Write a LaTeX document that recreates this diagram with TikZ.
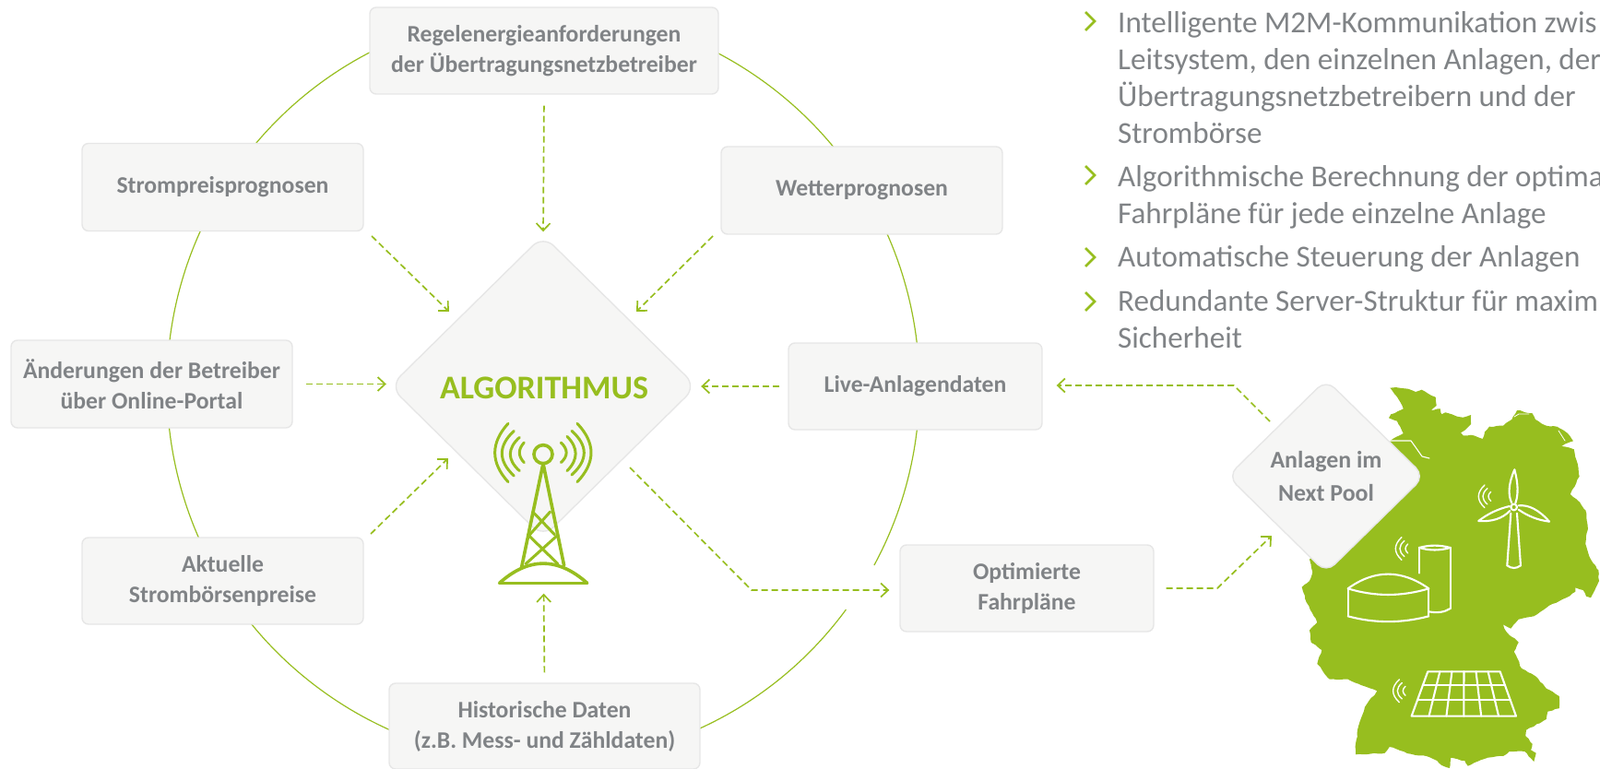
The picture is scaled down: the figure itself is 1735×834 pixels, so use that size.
\documentclass[tikz,border=0pt]{standalone}
\usepackage{fontspec}
\setmainfont{Carlito}
\usetikzlibrary{arrows.meta,shapes.geometric,calc,decorations.pathmorphing}
\definecolor{nxgreen}{HTML}{97BE1F}
\definecolor{nxgray}{HTML}{808386}
\definecolor{nxfill}{HTML}{F6F6F5}
\definecolor{nxedge}{HTML}{E6E6E6}
\tikzset{
  infobox/.style={draw=nxedge,fill=nxfill,line width=1.4pt,rounded corners=7pt,inner sep=0pt,
    text=nxgray,align=center,font=\fontsize{25.7}{33}\selectfont\bfseries},
  rhomb/.style={diamond,aspect=1,draw=nxedge,fill=nxfill,line width=1.4pt,rounded corners=13pt,inner sep=0pt,
    text=nxgray,align=center,font=\fontsize{25.9}{36}\selectfont\bfseries},
  flow/.style={draw=nxgreen,line width=1.7pt,dash pattern=on 7pt off 4pt,
    -{Straight Barb[length=8pt,width=15pt,line width=1.7pt]}},
  ring/.style={draw=nxgreen,line width=1.2pt},
  bullettext/.style={anchor=north west,inner sep=0pt,align=left,text=nxgray,
    font=\fontsize{33.1}{40}\selectfont},
  chevron/.style={draw=nxgreen,line width=2.6pt},
  towerline/.style={draw=nxgreen,line width=3.6pt,line cap=round,line join=round},
  towerthin/.style={draw=nxgreen,line width=3pt,line cap=round,line join=round},
  iconline/.style={draw=white,line width=2.1pt,line cap=round,line join=round},
  wifiline/.style={draw=white,line width=1.4pt,line cap=round},
  riverline/.style={draw=white,line width=1.1pt,line cap=round,line join=round},
}
% a curve through a single control point: start x,y; control x,y; end x,y
\newcommand{\qc}[6]{(#1,#2) .. controls ({#1+2/3*(#3-#1)},{#2+2/3*(#4-#2)}) and ({#5+2/3*(#3-#5)},{#6+2/3*(#4-#6)}) .. (#5,#6)}
\newcommand{\wifimark}[2]{%
  \begin{scope}[shift={(#1,#2)}]
    \draw[wifiline] \qc{0}{-37}{-40}{0}{0}{37};
    \draw[wifiline] \qc{9}{-26}{-21}{0}{9}{26};
    \draw[wifiline] \qc{20}{-15}{4}{0}{20}{15};
  \end{scope}}
\begin{document}
\begin{tikzpicture}[x=1pt,y=-1pt]
\useasboundingbox (0,0) rectangle (1735,834);
% ring
\coordinate (ringc) at (589,419);
\draw[ring] ($(ringc)+(36.4:408)$) arc[start angle=36.4,delta angle=352,radius=408];
% map of Germany
\fill[nxgreen,decorate,decoration={random steps,segment length=4pt,amplitude=0.6pt}]
 (1507.3,420.7)--(1513.3,420)--(1526.7,421.7)--(1535,425)--(1541.7,422.7)--(1548.3,426.7)--(1556.7,430.7)--(1557.7,440)--(1551.7,445)--(1561.7,443.3)--(1563.3,449.3)--(1567.3,447.3)--(1580,451.7)--(1586.7,452.7)--(1595,450)--(1595,460)--(1588.3,466.7)--(1584,469.3)--(1586.7,472.3)--(1595,471.7)--(1607.7,476)--(1610,468.3)--(1615,462.7)--(1630,461.7)--(1639.3,455)--(1645,445)--(1661.7,448.3)--(1665,455)--(1676.7,461.7)--(1688.3,462.7)--(1700,470)--(1706,478.3)--(1696.7,481.7)--(1693.3,484)--(1706.7,487.3)--(1711.7,508.3)--(1712.7,516.7)--(1702.7,536)--(1713.3,545)--(1719.3,553.3)--(1721.7,570)--(1719.3,590)--(1723.3,603.3)--(1733.3,618.3)--(1734,630)--(1725,648.3)--(1720,646.7)--(1716.7,640)--(1708.3,637.3)--(1708.3,641.7)--(1698.3,648.3)--(1683.3,655)--(1663.3,668.3)--(1646.7,671.7)--(1638.3,681.7)--(1630,677.3)--(1633.3,685)--(1646.7,696.7)--(1641.7,706.7)--(1650,725)--(1665,733.3)--(1676.7,746.7)--(1690.7,755)--(1690.7,768.3)--(1678.3,771.7)--(1676.7,780)--(1655,791.7)--(1654.3,798.3)--(1661.7,806.7)--(1660,813.3)--(1665.7,816.7)--(1663.3,826)--(1653.3,815)--(1636.7,815)--(1630,820)--(1613.3,821.7)--(1591.7,830.7)--(1588.3,825)--(1573.3,821.7)--(1571.7,833)--(1563.3,830)--(1558.3,825)--(1546.7,820)--(1530,817.7)--(1518.3,814)--(1506.7,810)--(1501.7,816.7)--(1470,818.3)--(1470,806.7)--(1473.3,786.7)--(1480,766.7)--(1493.3,749.3)--(1476.7,743.3)--(1461.7,736.7)--(1441.7,736.7)--(1428.3,720)--(1433.3,705)--(1421.7,696.7)--(1420,683.3)--(1428.3,675)--(1416.7,653.3)--(1411.7,636.7)--(1420,630)--(1423.3,620)--(1420,606.7)--(1440,590)--(1500,500)--(1507.3,478.3)--(1521.7,470)--(1515,456.7)--(1506,453.3)--(1508.3,449.3)--(1521.7,443.3)--(1516.7,433.3)--cycle;
\draw[riverline] (1507,478)--(1520,478)--(1530,478)--(1535,485)--(1542,495)--(1550,497);
\draw[riverline,line width=0.8pt] (1642,452)--(1647,449)--(1658,449);
\draw[riverline,line width=0.8pt] (1690,467)--(1697,478);
\begin{scope}[shift={(1300,400)},x=0.3333pt,y=-0.3333pt]
  % wind turbine
  \draw[iconline] (1015,470)--(1003,640);
  \draw[iconline] \qc{1003}{640}{1025}{656}{1047}{640};
  \draw[iconline] (1047,640)--(1035,470);
  \draw[iconline] (1025,450) circle[radius=10];
  \draw[iconline] \qc{1018}{437}{998}{395}{1027}{328};
  \draw[iconline] \qc{1027}{328}{1045}{395}{1030}{437};
  \draw[iconline] \qc{1011}{447}{955}{460}{910}{495};
  \draw[iconline] \qc{910}{495}{975}{500}{1012}{462};
  \draw[iconline] \qc{1040}{445}{1090}{440}{1140}{497};
  \draw[iconline] \qc{1140}{497}{1085}{490}{1040}{458};
  \wifimark{930}{415}
  % biogas plant
  \draw[iconline] \qc{485}{715}{615}{621}{748}{715};
  \draw[iconline] \qc{485}{715}{615}{755}{748}{715};
  \draw[iconline] (485,715)--(485,805);
  \draw[iconline] (748,715)--(748,805);
  \draw[iconline] \qc{485}{805}{615}{840}{748}{805};
  \draw[iconline] (717,665)--(717,582);
  \draw[iconline] (818,582)--(818,780);
  \draw[iconline] \qc{717}{582}{767}{568}{818}{582};
  \draw[iconline] \qc{717}{582}{767}{597}{818}{582};
  \draw[iconline] \qc{818}{780}{790}{798}{748}{790};
  \wifimark{660}{585}
  % solar panel
  \draw[iconline] (745,985)--(980,985)--(1032,1130)--(692,1130)--cycle;
  \draw[iconline] (728,1030)--(996,1030);
  \draw[iconline] (712,1078)--(1013,1078);
  \foreach \i in {1,...,5} {
    \draw[iconline] ({745+\i*235/6},985)--({692+\i*340/6},1130);
  }
  \wifimark{652}{1048}
\end{scope}
% nodes
\node[infobox,minimum width=378pt,minimum height=94pt] (regel) at (590,55) {Regelenergieanforderungen\\der Übertragungsnetzbetreiber};
\node[infobox,minimum width=305pt,minimum height=95pt] (preis) at (241.5,203) {\raisebox{-2pt}{Strompreisprognosen}};
\node[infobox,minimum width=305pt,minimum height=95pt] (wetter) at (934.5,206.5) {\raisebox{2pt}{Wetterprognosen}};
\node[infobox,minimum width=305pt,minimum height=95pt] (betreiber) at (164.5,416.5) {Änderungen der Betreiber\\über Online-Portal};
\node[infobox,minimum width=275pt,minimum height=94pt] (live) at (992.5,419) {Live-Anlagendaten};
\node[infobox,minimum width=305pt,minimum height=94pt] (boerse) at (241.5,630) {Aktuelle\\Strombörsenpreise};
\node[infobox,minimum width=337pt,minimum height=93pt] (hist) at (590.5,787.5) {Historische Daten\\(z.B. Mess- und Zähldaten)};
\node[infobox,minimum width=275pt,minimum height=94pt] (fahr) at (1113.5,638) {Optimierte\\Fahrpläne};
\node[rhomb,minimum width=333pt,minimum height=328pt,rounded corners=16pt] (algo) at (589,419) {};
\node[rhomb,minimum width=214pt,minimum height=210pt] (anlagen) at (1438,516.5) {Anlagen im\\Next Pool};
\node[text=nxgreen,inner sep=0pt,font=\fontsize{36}{40}\selectfont\bfseries,anchor=base] (algotext) at (590,432) {ALGORITHMUS};
% tower
\begin{scope}[shift={(420,380)},x=0.3333pt,y=-0.3333pt]
  \draw[towerline] (507,338) circle[radius=30];
  \draw[towerthin] \qc{445}{300}{415}{333}{445}{365};
  \draw[towerthin] \qc{430}{283}{370}{338}{430}{392};
  \draw[towerthin] \qc{412}{262}{334}{335}{412}{408};
  \draw[towerthin] \qc{393}{238}{307}{333}{393}{428};
  \draw[towerthin] \qc{565}{300}{600}{333}{565}{365};
  \draw[towerthin] \qc{585}{280}{640}{336}{585}{392};
  \draw[towerthin] \qc{600}{262}{680}{333}{600}{405};
  \draw[towerthin] \qc{618}{238}{708}{333}{618}{428};
  \draw[towerline] (507,368)--(437,705);
  \draw[towerline] (507,368)--(575,700);
  \draw[towerthin] (473,525)--(545,600);
  \draw[towerthin] (530,525)--(463,600);
  \draw[towerthin] (463,605)--(555,695);
  \draw[towerthin] (550,605)--(450,695);
  \draw[towerline] \qc{365}{757}{507}{630}{650}{757};
  \draw[towerline] (365,757)--(650,757);
\end{scope}
% connector ends
\coordinate (preisout) at (403,256);
\coordinate (preisin) at (487,338);
\coordinate (wetterout) at (773,256);
\coordinate (wetterin) at (690,338);
\coordinate (boerseout) at (402,579);
\coordinate (boersein) at (486,497);
\coordinate (algoout) at (683,507);
\coordinate (fahrbend) at (815,640);
\coordinate (anlagenbendA) at (1320,638);
\coordinate (anlagenin) at (1379,581);
\coordinate (anlagenout) at (1377,457);
\coordinate (anlagenbendB) at (1338,418);
% connectors
\draw[flow,shorten <=12pt,shorten >=3pt] (regel.south) -- (algo.north);
\draw[flow] (preisout) -- (preisin);
\draw[flow] (wetterout) -- (wetterin);
\draw[flow,shorten <=14pt,shorten >=3pt] (betreiber.east) -- (betreiber.east -| algo.west);
\draw[flow,shorten <=9pt,shorten >=4pt] (live.west) -- (live.west -| algo.east);
\draw[flow] (boerseout) -- (boersein);
\draw[flow,shorten <=11pt,shorten >=60pt] (hist.north) -- (algo.south);
\draw[flow,shorten >=11pt] (algoout) -- (fahrbend) -- (fahrbend -| fahr.west);
\draw[flow,shorten <=13pt] (fahr.east) -- (anlagenbendA) -- (anlagenin);
\draw[flow,shorten >=15pt] (anlagenout) -- (anlagenbendB) -- (anlagenbendB -| live.east);
% bullet list
\node[bullettext] (b1) at (1212,7) {\strut Intelligente M2M-Kommunikation zwis\\Leitsystem, den einzelnen Anlagen, der\\Übertragungsnetzbetreibern und der\\Strombörse};
\node[bullettext] (b2) at (1212,174) {\strut Algorithmische Berechnung der optima\\Fahrpläne für jede einzelne Anlage};
\node[bullettext] (b3) at (1212,261) {\strut Automatische Steuerung der Anlagen};
\node[bullettext] (b4) at (1212,309) {\strut Redundante Server-Struktur für maxim\\Sicherheit};
\foreach \y in {23,190,279,327} {
  \draw[chevron] (1177,\y-10)--(1187,\y)--(1177,\y+10);
}
\end{tikzpicture}
\end{document}
